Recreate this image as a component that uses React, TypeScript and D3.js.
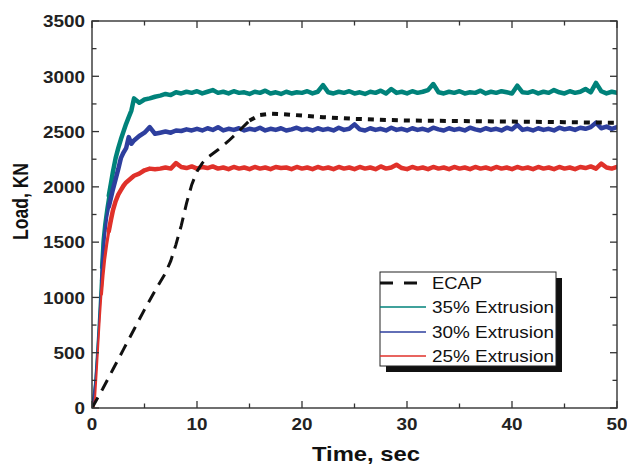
import React from "react";
import * as d3 from "d3";

const TIME = [
  0, 0.15, 0.3, 0.45, 0.6, 0.75, 0.9, 1.05, 1.2, 1.4, 1.6, 1.8, 2, 2.25, 2.5, 2.75, 3, 3.25, 3.5, 3.75, 4,
  4.5, 5, 5.5, 6, 6.5, 7, 7.5, 8, 8.5, 9, 9.5, 10, 10.5, 11, 11.5, 12, 12.5, 13, 13.5, 14, 14.5, 15,
  15.5, 16, 16.5, 17, 17.5, 18, 18.5, 19, 19.5, 20, 20.5, 21, 21.5, 22, 22.5, 23, 23.5, 24, 24.5, 25,
  25.5, 26, 26.5, 27, 27.5, 28, 28.5, 29, 29.5, 30, 30.5, 31, 31.5, 32, 32.5, 33, 33.5, 34, 34.5, 35,
  35.5, 36, 36.5, 37, 37.5, 38, 38.5, 39, 39.5, 40, 40.5, 41, 41.5, 42, 42.5, 43, 43.5, 44, 44.5, 45,
  45.5, 46, 46.5, 47, 47.5, 48, 48.5, 49, 49.5, 50,
];

const EXT35 = [
  0, 110, 240, 460, 700, 980, 1270, 1520, 1660, 1800, 1920, 2030, 2140, 2260, 2350, 2430, 2500, 2570, 2630, 2690, 2800,
  2760, 2790, 2800, 2815, 2825, 2840, 2830, 2855, 2845, 2860, 2850, 2865, 2845, 2860, 2875, 2850, 2860, 2845, 2865, 2850, 2855, 2840,
  2860, 2850, 2870, 2845, 2855, 2840, 2860, 2845, 2855, 2850, 2865, 2845, 2860, 2920, 2855, 2845, 2860, 2850, 2865, 2845,
  2855, 2840, 2860, 2850, 2870, 2845, 2885, 2850, 2860, 2845, 2865, 2850, 2860, 2875, 2930, 2855, 2845, 2860, 2850, 2865,
  2845, 2855, 2850, 2870, 2845, 2860, 2850, 2865, 2855, 2845, 2915, 2855, 2850, 2865, 2845, 2860, 2850, 2875, 2855, 2845,
  2865, 2850, 2860, 2885, 2855, 2940, 2865, 2845, 2860, 2850,
];

const EXT30 = [
  0, 100, 220, 420, 650, 900, 1150, 1380, 1560, 1720, 1820, 1900, 1980, 2070, 2160, 2260, 2310, 2350, 2450, 2390, 2420,
  2460, 2490, 2540, 2480, 2490, 2500, 2490, 2510, 2505, 2520, 2510, 2525, 2510, 2530, 2515, 2540, 2510, 2525, 2515, 2530, 2510, 2525,
  2515, 2535, 2510, 2525, 2515, 2530, 2510, 2520, 2535, 2515, 2525, 2510, 2530, 2515, 2525, 2510, 2535, 2515, 2525, 2565,
  2520, 2510, 2530, 2515, 2525, 2510, 2535, 2515, 2525, 2510, 2530, 2515, 2525, 2510, 2535, 2520, 2510, 2530, 2515, 2525,
  2510, 2535, 2520, 2510, 2530, 2515, 2525, 2510, 2535, 2520, 2560, 2515, 2525, 2510, 2530, 2515, 2525, 2510, 2535, 2520,
  2530, 2515, 2535, 2525, 2540, 2580, 2530, 2545, 2525, 2540,
];

const EXT25 = [
  0, 0, 100, 330, 580, 820, 1030, 1200, 1340, 1480, 1600, 1700, 1790, 1870, 1930, 1970, 2010, 2040, 2060, 2080, 2100,
  2120, 2150, 2165, 2160, 2165, 2175, 2165, 2215, 2180, 2170, 2185, 2165, 2180, 2170, 2185, 2165, 2175, 2160, 2180, 2165, 2175, 2160,
  2180, 2165, 2175, 2160, 2180, 2170, 2175, 2160, 2180, 2165, 2175, 2160, 2180, 2165, 2175, 2160, 2180, 2165, 2175, 2160,
  2180, 2165, 2175, 2160, 2185, 2165, 2175, 2200, 2170, 2160, 2180, 2165, 2175, 2160, 2180, 2165, 2175, 2160, 2180, 2165,
  2175, 2160, 2180, 2165, 2175, 2160, 2180, 2165, 2175, 2160, 2180, 2165, 2175, 2160, 2180, 2165, 2175, 2160, 2180, 2165,
  2175, 2160, 2180, 2170, 2185, 2165, 2210, 2175, 2165, 2180,
];

const ECAP_TIME = [0, 1, 2, 3, 4, 5, 6, 7, 7.5, 8, 8.5, 9, 9.5, 10, 10.5, 11, 12, 13, 14, 15, 16, 17, 18, 20, 22, 25, 28, 30, 35, 40, 45, 50];
const ECAP = [0, 170, 350, 530, 710, 890, 1060, 1220, 1330, 1480, 1650, 1850, 2020, 2140, 2215, 2265, 2335, 2415, 2505, 2600, 2650, 2662, 2658, 2645, 2630, 2615, 2605, 2600, 2595, 2590, 2585, 2580];

const X_TICKS = [0, 10, 20, 30, 40, 50];
const X_MINOR = [5, 15, 25, 35, 45];
const Y_TICKS = [0, 500, 1000, 1500, 2000, 2500, 3000, 3500];
const Y_MINOR = [250, 750, 1250, 1750, 2250, 2750, 3250];

const SERIES_NAMES = ["ECAP", "35% Extrusion", "30% Extrusion", "25% Extrusion"];
const COLORS = ["#111111", "#00827a", "#2e3f9e", "#e0312a"];

const W = 627;
const H = 468;
const M = { left: 92, right: 617, top: 21, bottom: 408 };

export default function App() {
  const x = d3.scaleLinear().domain([0, 50]).range([M.left, M.right]);
  const y = d3.scaleLinear().domain([0, 3500]).range([M.bottom, M.top]);
  const line = d3
    .line<[number, number]>()
    .x((d) => x(d[0]))
    .y((d) => y(d[1]));

  const zip = (t: number[], v: number[]) => {
    const n = Math.min(t.length, v.length);
    const out: [number, number][] = [];
    for (let i = 0; i < n; i++) out.push([t[i], v[i]]);
    return out;
  };

  const ext = [EXT35, EXT30, EXT25];
  const font = "'Liberation Sans', Arial, Helvetica, sans-serif";
  const axisColor = "#333";
  const major = 7;
  const minor = 4.5;
  const digitW = 10.5;
  const SEGMENTS = [
    { from: 0, to: 7, w: 2 },
    { from: 6, to: 11, w: 3.1 },
    { from: 10, to: 999, w: 4.5 },
  ];

  const ecapPts = zip(ECAP_TIME, ECAP);
  const ecapRise = ecapPts.filter((d) => d[0] <= 15);
  const ecapFlat = ecapPts.filter((d) => d[0] >= 15);

  const legX = 380;
  const legY = 272;
  const legW = 176;
  const legH = 94;
  const legBase = [289, 313, 338, 362];
  const legTextW = [50, 122, 122, 122];

  return (
    <svg width={W} height={H} style={{ position: "absolute", left: 0, top: 0, background: "#fff" }}>
      <defs>
        <clipPath id="plot">
          <rect x={M.left} y={M.top} width={M.right - M.left} height={M.bottom - M.top} />
        </clipPath>
      </defs>
      <g clipPath="url(#plot)">
        {ext.map((vals, i) => {
          const pts = zip(TIME, vals);
          return (
            <g key={i}>
              {SEGMENTS.map((s, k) => (
                <path
                  key={k}
                  d={line(pts.slice(s.from, s.to + 1)) || ""}
                  fill="none"
                  stroke={COLORS[i + 1]}
                  strokeWidth={s.w}
                  strokeLinejoin="round"
                  strokeLinecap="round"
                />
              ))}
            </g>
          );
        })}
        <path
          d={line(ecapRise) || ""}
          fill="none"
          stroke={COLORS[0]}
          strokeWidth={3}
          strokeDasharray="12,8"
        />
        <path
          d={line(ecapFlat) || ""}
          fill="none"
          stroke={COLORS[0]}
          strokeWidth={4}
          strokeDasharray="6,6"
        />
      </g>

      <rect
        x={M.left}
        y={M.top}
        width={M.right - M.left}
        height={M.bottom - M.top}
        fill="none"
        stroke={axisColor}
        strokeWidth={1.4}
      />

      {X_TICKS.map((t) => (
        <g key={"xt" + t}>
          <line x1={x(t)} x2={x(t)} y1={M.bottom} y2={M.bottom - major} stroke={axisColor} strokeWidth={1.3} />
          <line x1={x(t)} x2={x(t)} y1={M.top} y2={M.top + major} stroke={axisColor} strokeWidth={1.3} />
          <text
            x={x(t)}
            y={429.5}
            textAnchor="middle"
            fontFamily={font}
            fontWeight="bold"
            fontSize={17}
            fill="#222"
            textLength={String(t).length * digitW}
            lengthAdjust="spacingAndGlyphs"
          >
            {t}
          </text>
        </g>
      ))}
      {X_MINOR.map((t) => (
        <g key={"xm" + t}>
          <line x1={x(t)} x2={x(t)} y1={M.bottom} y2={M.bottom - minor} stroke={axisColor} strokeWidth={1.3} />
          <line x1={x(t)} x2={x(t)} y1={M.top} y2={M.top + minor} stroke={axisColor} strokeWidth={1.3} />
        </g>
      ))}

      {Y_TICKS.map((v) => (
        <g key={"yt" + v}>
          <line x1={M.left} x2={M.left + major} y1={y(v)} y2={y(v)} stroke={axisColor} strokeWidth={1.3} />
          <line x1={M.right} x2={M.right - major} y1={y(v)} y2={y(v)} stroke={axisColor} strokeWidth={1.3} />
          <text
            x={85}
            y={y(v) + 6.3}
            textAnchor="end"
            fontFamily={font}
            fontWeight="bold"
            fontSize={17}
            fill="#222"
            textLength={String(v).length * digitW}
            lengthAdjust="spacingAndGlyphs"
          >
            {v}
          </text>
        </g>
      ))}
      {Y_MINOR.map((v) => (
        <g key={"ym" + v}>
          <line x1={M.left} x2={M.left + minor} y1={y(v)} y2={y(v)} stroke={axisColor} strokeWidth={1.3} />
          <line x1={M.right} x2={M.right - minor} y1={y(v)} y2={y(v)} stroke={axisColor} strokeWidth={1.3} />
        </g>
      ))}

      <text
        x={312}
        y={461}
        textAnchor="start"
        fontFamily={font}
        fontWeight="bold"
        fontSize={21}
        fill="#111"
        textLength={108}
        lengthAdjust="spacingAndGlyphs"
      >
        Time, sec
      </text>
      <text
        transform={`translate(27.5, 201.5) rotate(-90)`}
        textAnchor="middle"
        fontFamily={font}
        fontWeight="bold"
        fontSize={21.5}
        fill="#111"
        textLength={77}
        lengthAdjust="spacingAndGlyphs"
      >
        Load, KN
      </text>

      <rect x={legX + 6} y={legY + 6} width={legW} height={legH} fill="#111" />
      <rect x={legX} y={legY} width={legW} height={legH} fill="#fff" stroke="#222" strokeWidth={1} />
      {SERIES_NAMES.map((name, i) => (
        <g key={name}>
          {i === 0 ? (
            <line
              x1={legX}
              x2={legX + 41}
              y1={legBase[i] - 6}
              y2={legBase[i] - 6}
              stroke={COLORS[i]}
              strokeWidth={3}
              strokeDasharray="13,11"
            />
          ) : (
            <line
              x1={legX}
              x2={legX + 46}
              y1={legBase[i] - 6}
              y2={legBase[i] - 6}
              stroke={COLORS[i]}
              strokeWidth={1.4}
            />
          )}
          <text
            x={432}
            y={legBase[i]}
            fontFamily={font}
            fontSize={16}
            fill="#111"
            textLength={legTextW[i]}
            lengthAdjust="spacingAndGlyphs"
          >
            {name}
          </text>
        </g>
      ))}
    </svg>
  );
}
